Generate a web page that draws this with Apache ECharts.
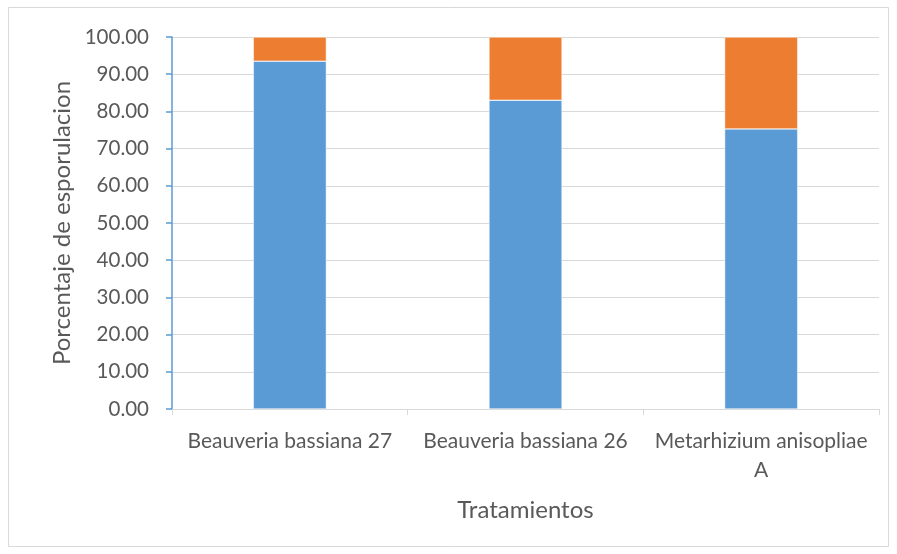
<!DOCTYPE html>
<html>
<head>
<meta charset="utf-8">
<script src="https://cdn.jsdelivr.net/npm/echarts@6/dist/echarts.min.js"></script>
<style>html,body{margin:0;padding:0;background:#fff}#c{width:897px;height:554px}</style>
</head>
<body>
<div id="c"></div>
<script>
const categories = ["Beauveria bassiana 27", "Beauveria bassiana 26", "Metarhizium anisopliae A"];
const seriesBlue = [93.5, 83.0, 75.3];
const seriesOrange = [6.5, 17.0, 24.7];
const yTicks = [0, 10, 20, 30, 40, 50, 60, 70, 80, 90, 100];
const xTitle = "Tratamientos";
const yTitle = "Porcentaje de esporulacion";

const font = "Lato, 'Open Sans', sans-serif";
const chart = echarts.init(document.getElementById('c'));
chart.setOption({
  animation: false,
  backgroundColor: '#fff',
  graphic: [{type:'rect', shape:{x:8.5,y:7.5,width:880,height:539}, style:{fill:'none', stroke:'#D9D9D9', lineWidth:1}, silent:true}],
  grid: {left:172, top:37, right:18, bottom:145, containLabel:false},
  xAxis: {
    type:'category', data: categories,
    name: xTitle, nameLocation:'middle', nameGap: 89,
    nameTextStyle:{fontFamily:font, fontSize:24, color:'#595959'},
    axisLine:{lineStyle:{color:'#D9D9D9', width:1}},
    axisTick:{show:true, length:6, lineStyle:{color:'#D9D9D9'}},
    axisLabel:{interval:0, hideOverlap:false, fontFamily:font, fontSize:21, color:'#595959', margin:18, lineHeight:29,
      formatter: v => v.length > 22 ? v.replace(/ (\S+)$/, '\n$1') : v}
  },
  yAxis: {
    type:'value', min: yTicks[0], max: yTicks[yTicks.length-1], interval: 10,
    name: yTitle, nameLocation:'middle', nameGap: 98,
    nameTextStyle:{fontFamily:font, fontSize:24, color:'#595959'},
    axisLine:{show:true, lineStyle:{color:'#5B9BD5', width:1.5}},
    axisTick:{show:true, length:6, lineStyle:{color:'#5B9BD5', width:1.5}},
    axisLabel:{fontFamily:font, fontSize:20.5, color:'#595959', margin:23, formatter: v => v.toFixed(2)},
    splitLine:{lineStyle:{color:'#D9D9D9', width:1}}
  },
  series: [
    {type:'bar', stack:'a', data: seriesBlue, barWidth:'31%', itemStyle:{color:'#5B9BD5', borderColor:'#fff', borderWidth:0.5}},
    {type:'bar', stack:'a', data: seriesOrange, barWidth:'31%', itemStyle:{color:'#ED7D31', borderColor:'#fff', borderWidth:0.5}}
  ]
});
</script>
</body>
</html>
